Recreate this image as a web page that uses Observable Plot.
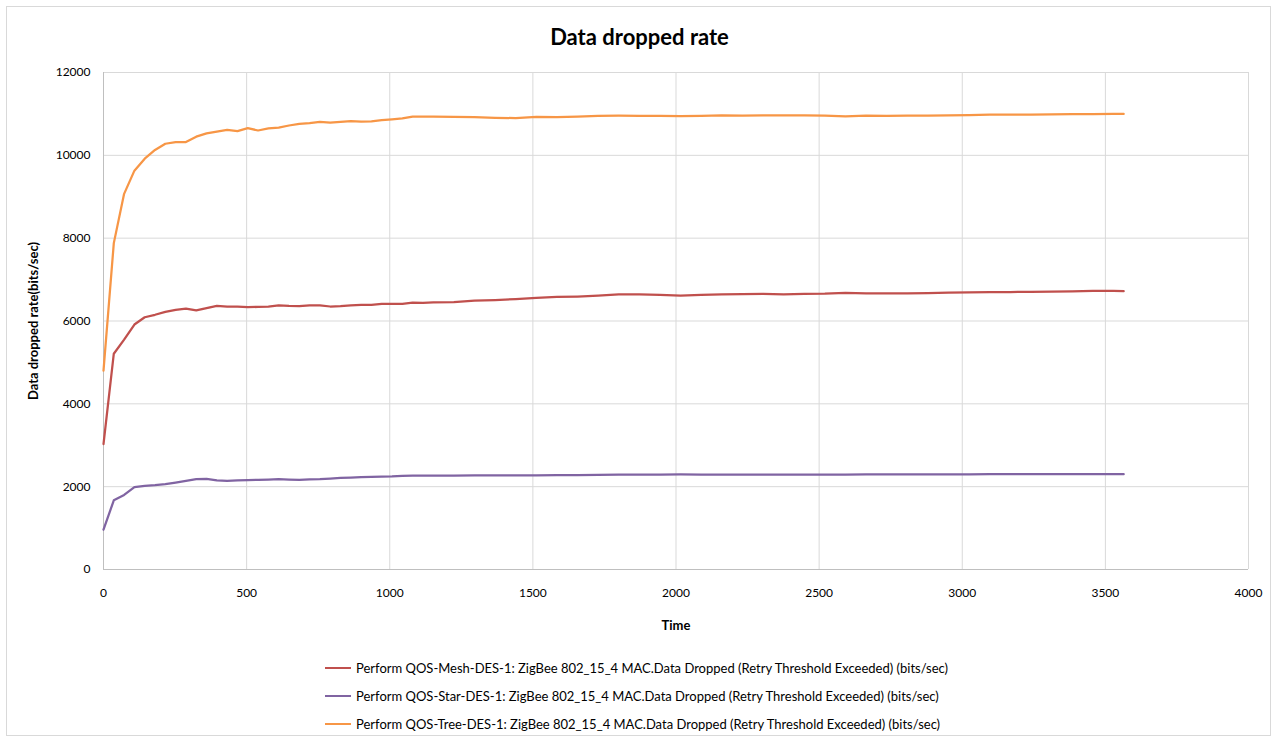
<!DOCTYPE html>
<html>
<head>
<meta charset="utf-8">
<script src="https://cdn.jsdelivr.net/npm/d3@7"></script>
<script src="https://cdn.jsdelivr.net/npm/@observablehq/plot@0.6"></script>
<style>
  html, body { margin: 0; padding: 0; background: #fff; overflow: hidden; }
  #wrap { position: relative; width: 1279px; height: 743px; font-family: Lato, "Open Sans", sans-serif; }
  #frame { position: absolute; left: 6px; top: 6px; width: 1265px; height: 730px; border: 1px solid #d9d9d9; box-sizing: border-box; }
  #title { position: absolute; left: 0; width: 1279px; top: 23px; text-align: center; font-size: 22px; font-weight: bold; color: #000; }
  #plot { position: absolute; left: 0; top: 55px; }
  #legend { position: absolute; left: 325px; top: 654px; font-size: 13px; color: #000; }
  .item { display: flex; align-items: center; height: 28px; }
  .swatch { width: 26px; height: 0; border-top: 2.5px solid; margin-right: 5px; }
  g[aria-label="y-axis label"] text, g[aria-label="x-axis label"] text { font-weight: bold; font-size: 13px; }
</style>
</head>
<body>
<div id="wrap">
  <div id="frame"></div>
  <div id="title">Data dropped rate</div>
  <div id="plot"></div>
  <div id="legend"></div>
</div>
<script>
const time = [0,36,72,108,144,180,216,252,288,324,360,396,432,468,504,540,576,612,648,684,720,756,792,828,864,900,936,972,1008,1044,1080,1116,1152,
  1224,1296,1368,1440,1512,1584,1656,1728,1800,1872,1944,2016,2088,2160,2232,2304,2376,2448,2520,2592,2664,2736,2808,2880,2952,3024,3096,3168,3240,3312,3384,3456,3528,3564];

const meshRate = [3030,5210,5550,5915,6090,6150,6220,6270,6300,6255,6310,6365,6350,6345,6335,6340,6345,6380,6365,6360,6380,6375,6350,6360,6380,6390,6390,6415,6415,6415,6445,6440,6447,
  6455,6490,6505,6530,6560,6580,6590,6610,6640,6640,6630,6610,6630,6640,6650,6655,6645,6655,6660,6680,6665,6670,6665,6675,6685,6690,6695,6700,6705,6710,6715,6728,6725,6720];

const starRate = [960,1670,1800,1990,2020,2036,2060,2100,2140,2180,2190,2150,2140,2150,2157,2165,2170,2180,2170,2165,2175,2180,2195,2210,2220,2230,2235,2245,2250,2262,2265,2265,2265,
  2268,2270,2270,2272,2270,2278,2280,2285,2288,2290,2292,2294,2292,2290,2290,2288,2288,2290,2292,2290,2295,2296,2296,2296,2298,2298,2300,2300,2300,2300,2302,2303,2302,2302];

const treeRate = [4800,7880,9070,9630,9920,10130,10280,10320,10320,10450,10530,10575,10615,10585,10655,10600,10650,10670,10720,10760,10775,10810,10790,10810,10825,10815,10820,10850,10870,10890,10935,10935,10935,
  10930,10920,10905,10900,10930,10925,10935,10955,10960,10955,10950,10945,10950,10965,10960,10965,10965,10965,10960,10940,10960,10955,10960,10960,10965,10970,10980,10985,10985,10990,10995,10995,11000,11000];

const seriesNames = [
  "Perform QOS-Mesh-DES-1: ZigBee 802_15_4 MAC.Data Dropped (Retry Threshold Exceeded) (bits/sec)",
  "Perform QOS-Star-DES-1: ZigBee 802_15_4 MAC.Data Dropped (Retry Threshold Exceeded) (bits/sec)",
  "Perform QOS-Tree-DES-1: ZigBee 802_15_4 MAC.Data Dropped (Retry Threshold Exceeded) (bits/sec)"
];
const seriesColors = ["#c0504d", "#8064a2", "#f79646"];
const seriesValues = [meshRate, starRate, treeRate];

const xTicks = [0,500,1000,1500,2000,2500,3000,3500,4000];
const yTicks = [0,2000,4000,6000,8000,10000,12000];

const data = [];
seriesValues.forEach((vals, s) => {
  vals.forEach((v, i) => data.push({series: seriesNames[s], t: time[i], v}));
});

const chart = Plot.plot({
  width: 1279,
  height: 590,
  marginLeft: 103,
  marginRight: 31,
  marginTop: 17,
  marginBottom: 76,
  style: {fontFamily: "Lato, 'Open Sans', sans-serif", fontSize: "12px", color: "#000", background: "transparent"},
  x: {domain: [0, 4000]},
  y: {domain: [0, 12000]},
  color: {domain: seriesNames, range: seriesColors},
  marks: [
    Plot.gridX(xTicks, {stroke: "#d9d9d9", strokeOpacity: 1, strokeWidth: 1}),
    Plot.gridY(yTicks, {stroke: "#d9d9d9", strokeOpacity: 1, strokeWidth: 1}),
    Plot.ruleX([0], {stroke: "#bfbfbf"}),
    Plot.ruleY([0], {stroke: "#bfbfbf"}),
    Plot.axisX(xTicks, {tickSize: 0, tickPadding: 19, tickFormat: d => String(d), label: "Time", labelAnchor: "center", labelArrow: "none", labelOffset: 60}),
    Plot.axisY(yTicks, {tickSize: 0, tickPadding: 13, tickFormat: d => String(d), label: "Data dropped rate(bits/sec)", labelAnchor: "center", labelArrow: "none", labelOffset: 75}),
    Plot.line(data, {x: "t", y: "v", z: "series", stroke: "series", strokeWidth: 2.25, strokeLinejoin: "round"})
  ]
});
document.getElementById("plot").appendChild(chart);

const legend = document.getElementById("legend");
seriesNames.forEach((name, i) => {
  const item = document.createElement("div");
  item.className = "item";
  const sw = document.createElement("span");
  sw.className = "swatch";
  sw.style.borderTopColor = seriesColors[i];
  const label = document.createElement("span");
  label.textContent = name;
  item.appendChild(sw);
  item.appendChild(label);
  legend.appendChild(item);
});
</script>
</body>
</html>
